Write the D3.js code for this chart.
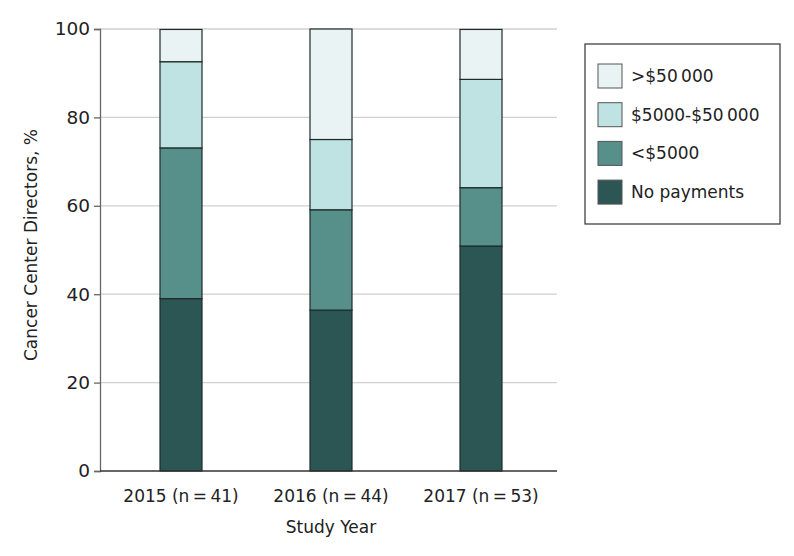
<!DOCTYPE html>
<html><head><meta charset="utf-8">
<script src="https://cdn.jsdelivr.net/npm/d3@7"></script>
<style>body{margin:0;background:#fff}svg{display:block}text{font-family:"DejaVu Sans",sans-serif;fill:#222}</style>
</head><body>
<svg id="c" width="794" height="556"></svg>
<script>
const categories = ["2015 (n\u2009=\u200941)", "2016 (n\u2009=\u200944)", "2017 (n\u2009=\u200953)"];
const seriesNames = ["No payments", "<$5000", "$5000-$50\u2009000", ">$50\u2009000"];
const noPayments = [39.0, 36.4, 50.9];
const under5000 = [34.1, 22.7, 13.2];
const mid5000to50000 = [19.5, 15.9, 24.5];
const over50000 = [7.3, 25.0, 11.3];
const yTicks = [0, 20, 40, 60, 80, 100];
const colors = ["#2c5654", "#578f8b", "#bfe3e3", "#e9f3f4"];

const svg = d3.select("#c");
const x = d3.scaleBand().domain(categories).range([106, 556]).paddingInner(0.72).paddingOuter(0.36);
const y = d3.scaleLinear().domain([0, 100]).range([471, 29]);

const rows = categories.map((c, i) => ({cat: c, "No payments": noPayments[i], "<$5000": under5000[i],
  [seriesNames[2]]: mid5000to50000[i], [seriesNames[3]]: over50000[i]}));
const stacked = d3.stack().keys(seriesNames)(rows);

// gridlines
svg.append("g").selectAll("line").data(yTicks.filter(d => d > 0)).join("line")
  .attr("x1", 100).attr("x2", 557).attr("y1", d => y(d)).attr("y2", d => y(d))
  .attr("stroke", "#d0d0d0").attr("stroke-width", 1.3);

// bars
svg.append("g").selectAll("g").data(stacked).join("g")
  .attr("fill", (d, i) => colors[i])
  .selectAll("rect").data(d => d).join("rect")
  .attr("x", d => x(d.data.cat)).attr("width", x.bandwidth())
  .attr("y", d => y(d[1])).attr("height", d => y(d[0]) - y(d[1]))
  .attr("stroke", "#1e2b2a").attr("stroke-width", 1.2);

// y axis
const ya = svg.append("g").attr("transform", "translate(100,0)")
  .call(d3.axisLeft(y).tickValues(yTicks).tickSize(6).tickPadding(4));
ya.select(".domain").attr("stroke", "#666").attr("stroke-width", 1.3);
ya.selectAll(".tick line").attr("stroke", "#666").attr("stroke-width", 1.3);
ya.selectAll(".tick text").style("font-size", "18.5px").attr("fill", "#222");

// x axis
const xa = svg.append("g").attr("transform", "translate(0,471)")
  .call(d3.axisBottom(x).tickSize(0).tickPadding(0));
xa.select(".domain").attr("d", "M100,0H557").attr("stroke", "#333").attr("stroke-width", 1.3);
xa.selectAll(".tick text").attr("dy", null).attr("y", 31).style("font-size", "17px").attr("fill", "#222");

// axis titles
svg.append("text").attr("x", 331).attr("y", 533).attr("text-anchor", "middle")
  .style("font-size", "17px").text("Study Year");
svg.append("text").attr("transform", "translate(37,245) rotate(-90)").attr("text-anchor", "middle")
  .style("font-size", "17px").text("Cancer Center Directors, %");

// legend
const lg = svg.append("g");
lg.append("rect").attr("x", 585).attr("y", 44).attr("width", 195).attr("height", 180)
  .attr("fill", "#fff").attr("stroke", "#333").attr("stroke-width", 1.2);
const legendOrder = [3, 2, 1, 0];
const li = lg.selectAll("g").data(legendOrder).join("g")
  .attr("transform", (d, i) => `translate(598,${64 + i * 38.7})`);
li.append("rect").attr("width", 24).attr("height", 24).attr("fill", d => colors[d])
  .attr("stroke", "#555").attr("stroke-width", 1);
li.append("text").attr("x", 33).attr("y", 12).attr("dy", "0.35em")
  .style("font-size", "17px").text(d => seriesNames[d]);
</script>
</body></html>
